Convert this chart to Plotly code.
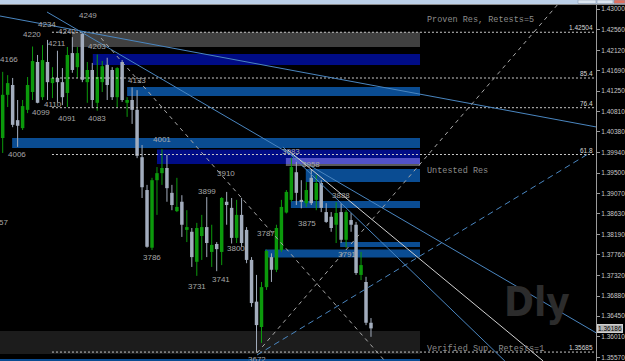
import plotly.graph_objects as go

# ---------------- data (prices in pips, 1.xxxx) ----------------
bars = list(range(75))
opens = [14025,14117,14138,14063,14046,14085,14123,14187,14112,14187,
         14142,14153,14144,14121,14206,14176,14247,14144,14170,14100,
         14144,14181,14170,14112,14187,14100,14106,14085,13984,13914,
         13791,13935,13950,13961,13908,13869,13889,13829,13825,13761,
         13816,13835,13782,13799,13782,13889,13876,13812,13861,13829,
         13765,13676,13622,13707,13771,13744,13786,13866,13893,13952,
         13893,13886,13940,13893,13929,13867,13857,13840,13867,13808,
         13850,13840,13733,13718,13631]
highs = [14166,14159,14153,14106,14106,14155,14220,14202,14223,14234,
         14176,14211,14174,14219,14240,14219,14249,14187,14185,14203,
         14189,14196,14176,14176,14191,14112,14133,14127,14010,13925,
         13940,13963,14001,13989,13925,13940,13903,13871,13833,13844,
         13861,13899,13840,13803,13899,13910,13897,13893,13897,13835,
         13771,13733,13718,13787,13779,13840,13893,13914,13983,13974,
         13935,13931,13958,13946,13935,13886,13867,13888,13886,13871,
         13865,13846,13782,13729,13641]
lows = [13993,14091,14048,14006,14042,14078,14106,14099,14106,14106,
        14110,14100,14095,14091,14164,14153,14144,14100,14089,14083,
        14123,14106,14106,14091,14102,14070,14055,13982,13897,13791,
        13786,13861,13925,13889,13871,13867,13814,13803,13750,13731,
        13765,13771,13750,13741,13754,13840,13800,13801,13793,13758,
        13665,13569,13588,13701,13718,13739,13782,13864,13889,13882,
        13875,13878,13882,13871,13867,13844,13825,13801,13801,13791,
        13825,13733,13722,13626,13601]
closes = [14117,14142,14053,14051,14093,14138,14189,14100,14191,14144,
          14153,14144,14112,14202,14170,14206,14149,14170,14106,14155,
          14178,14138,14112,14174,14106,14106,14085,13987,13920,13793,
          13935,13950,13961,13918,13882,13878,13840,13835,13771,13833,
          13835,13801,13797,13788,13897,13882,13812,13861,13801,13765,
          13673,13626,13707,13784,13744,13833,13878,13910,13963,13908,
          13889,13914,13886,13929,13876,13846,13833,13865,13808,13867,
          13840,13737,13754,13631,13619]

# supply / demand zones: start bar, low price, high price, colour key
zone_start = [13.9, 18.1, 25.0, 1.9, 31.0, 56.9, 56.9, 60.9, 57.9, 67.8, 52.7, -0.6, -0.6]
zone_low = [1.421898, 1.418060, 1.411450, 1.400362, 1.396951, 1.396951, 1.396525,
            1.393113, 1.387569, 1.379254, 1.377015, 1.356439, 1.3540]
zone_high = [1.42504, 1.420405, 1.413369, 1.402495, 1.400043, 1.398230, 1.396951,
             1.395885, 1.389062, 1.380320, 1.378721, 1.361343, 1.355373]
zone_kind = ["gray", "navy", "steel", "steel", "navy", "purple", "strip",
             "steel", "steel", "steel", "steel", "dark", "steel"]
zone_end = 83.85

# horizontal dotted levels and their labels
level_price = [1.42504, 1.415288, 1.408955, 1.398977, 1.35685]
level_text = ["1.42504", "85.4", "76.4", "61.8", "1.35685"]
level_start = 9.9

# trend lines: (bar0, price0, bar1, price1, style)
tl_x0 = [-0.55, 8.9, 56.3, 57.3, 51.1, 51.1, 19.75]
tl_y0 = [1.428507, 1.429360, 1.400576, 1.399936, 1.356226, 1.356652, 1.423817]
tl_x1 = [119.3, 119.3, 100.9, 108.6, 117.6, 111.6, 76.8]
tl_y1 = [1.404840, 1.360917, 1.354947, 1.354947, 1.399083, 1.431066, 1.354947]
tl_style = ["blue", "blue", "blue", "white", "bluedash", "graydash", "graydash"]

# fractal labels
lab_text = ["4249","4234","4220","4240","4211","4203","4166","4133","4110","4099",
            "4091","4083","4006","4001","3983","3958","3910","3899","3888","3875",
            "3800","3787","3791","3786","3741","3731","3672","57"]
lab_x = [17.1,8.9,5.9,12.9,10.9,18.9,1.2,27.0,10.1,7.7,
         12.9,18.9,2.9,32.0,57.9,61.9,44.9,41.0,68.0,61.1,
         46.9,52.9,69.2,30.0,43.9,39.1,51.1,0.1]
lab_y = [1.42851,1.42659,1.42467,1.42531,1.42254,1.42211,1.41913,1.41465,1.40965,1.40785,
         1.40655,1.40655,1.39908,1.40228,1.39972,1.39695,1.39482,1.39119,1.39013,1.38416,
         1.37904,1.38224,1.37776,1.37691,1.37222,1.37073,1.35537,1.38458]

tick_vals = [1.43000,1.42560,1.42120,1.41690,1.41250,1.40810,1.40380,1.39940,1.39500,
             1.39070,1.38630,1.38190,1.37760,1.37320,1.36880,1.36450,1.36010,1.35570]
last_price = 1.36186

# ---------------- figure ----------------
UP, DN = "#0c9a0c", "#a3adbd"
zone_col = {"gray": "#404040", "navy": "#000c86", "steel": "#0a4c92",
            "purple": "#5252c8", "strip": "#5a5a5a", "dark": "#1c1c1c"}
line_sty = {"blue": dict(color="#4a86c0", width=1),
            "white": dict(color="#d0d0d0", width=1),
            "bluedash": dict(color="#4a86c0", width=1, dash="6px,4px"),
            "graydash": dict(color="#a8a8a8", width=1, dash="4px,4px")}

fig = go.Figure()
P = lambda v: v / 10000
for up, col in [(True, UP), (False, DN)]:
    sel = [i for i in bars if (closes[i] >= opens[i]) == up]
    wx, wy = [], []
    for i in sel:
        wx += [i, i, None]
        wy += [P(lows[i]), P(highs[i]), None]
    fig.add_trace(go.Scatter(x=wx, y=wy, mode="lines", line=dict(color=col, width=1),
                             hoverinfo="skip", showlegend=False))
    fig.add_trace(go.Bar(
        x=sel,
        base=[P(min(opens[i], closes[i])) for i in sel],
        y=[max(P(abs(closes[i] - opens[i])), 0.00022) for i in sel],
        width=0.7, marker=dict(color=col, line=dict(width=0)),
        hoverinfo="skip", showlegend=False))

shapes = []
for s, lo, hi, k in zip(zone_start, zone_low, zone_high, zone_kind):
    shapes.append(dict(type="rect", xref="x", yref="y", x0=s, x1=zone_end, y0=lo, y1=hi,
                       fillcolor=zone_col[k], line=dict(width=0), layer="below"))
for p in level_price:
    shapes.append(dict(type="line", xref="x", yref="y", x0=level_start, x1=119.3, y0=p, y1=p,
                       line=dict(color="#c8c8c8", width=1, dash="2px,2px"), layer="above"))
for x0, y0, x1, y1, st in zip(tl_x0, tl_y0, tl_x1, tl_y1, tl_style):
    shapes.append(dict(type="line", xref="x", yref="y", x0=x0, y0=y0, x1=x1, y1=y1,
                       line=line_sty[st], layer="above"))
# window frame strip at top
shapes.append(dict(type="rect", xref="paper", yref="paper", x0=0, x1=1, y0=1 - 4/361, y1=1,
                   fillcolor="#bcd0e8", line=dict(width=0), layer="above"))
shapes.append(dict(type="line", xref="paper", yref="paper", x0=0, x1=1, y0=1 - 4.5/361, y1=1 - 4.5/361,
                   line=dict(color="#8a8a8a", width=1), layer="above"))
for bx0, bx1, bc in [(578/625, 596/625, "#dde6f0"), (597/625, 613/625, "#dde6f0"), (614/625, 1, "#e07060")]:
    shapes.append(dict(type="rect", xref="paper", yref="paper", x0=bx0, x1=bx1, y0=1 - 3.5/361, y1=1,
                       fillcolor=bc, line=dict(color="#8090a8", width=0.5), layer="above"))

ann = []
for t, x, y in zip(lab_text, lab_x, lab_y):
    ann.append(dict(x=x, y=y, xref="x", yref="y", text=t, showarrow=False,
                    font=dict(family="Liberation Sans, Arial, sans-serif", size=8, color="#a8a8a8")))
for t, p in zip(level_text, level_price):
    ann.append(dict(x=119.1, y=p, xref="x", yref="y", text=t, showarrow=False, xanchor="right",
                    yanchor="bottom", yshift=-1,
                    font=dict(family="Liberation Sans, Arial, sans-serif", size=6.5, color="#d8d8d8")))
mono = dict(family="Liberation Mono, Courier New, monospace", size=8.5, color="#8c8c8c")
ann.append(dict(x=84.95, y=1.42765, xref="x", yref="y", text="Proven Res, Retests=5",
                showarrow=False, xanchor="left", font=mono))
ann.append(dict(x=84.95, y=1.395458, xref="x", yref="y", text="Untested Res",
                showarrow=False, xanchor="left", font=mono))
ann.append(dict(x=84.95, y=1.357505, xref="x", yref="y", text="Verified Sup, Retests=1",
                showarrow=False, xanchor="left", font=mono))
ann.append(dict(x=107.4, y=1.367527, xref="x", yref="y", text="<b>Dly</b>", showarrow=False,
                font=dict(family="DejaVu Sans Condensed, Liberation Sans Narrow, Liberation Sans, sans-serif",
                          size=40, color="#2c2c2c")))
ann.append(dict(x=597/625, y=last_price, xref="paper", yref="y", text="1.36186", showarrow=False,
                xanchor="left", bgcolor="#b4b4b4", borderpad=0, bordercolor="#d0d0d0", borderwidth=1,
                font=dict(family="Liberation Sans, Arial, sans-serif", size=6.5, color="#000000")))

fig.update_layout(
    width=625, height=361, margin=dict(l=0, r=0, t=0, b=0),
    paper_bgcolor="#000000", plot_bgcolor="#000000", barmode="overlay",
    shapes=shapes, annotations=ann, showlegend=False,
    xaxis=dict(domain=[0, 596/625], range=[-0.542, 119.21], showgrid=False, zeroline=False,
               showticklabels=False, showline=False, fixedrange=True),
    yaxis=dict(side="right", range=[1.354947, 1.431919], showgrid=False, zeroline=False,
               tickvals=tick_vals, ticktext=[f"{v:.5f}" for v in tick_vals],
               tickfont=dict(family="Liberation Sans, Arial, sans-serif", size=6.5, color="#c8c8c8"),
               ticks="outside", ticklen=3, tickcolor="#9a9a9a", showline=True, linecolor="#9a9a9a",
               linewidth=1, automargin=False, fixedrange=True),
)
fig.write_html("out.html")
